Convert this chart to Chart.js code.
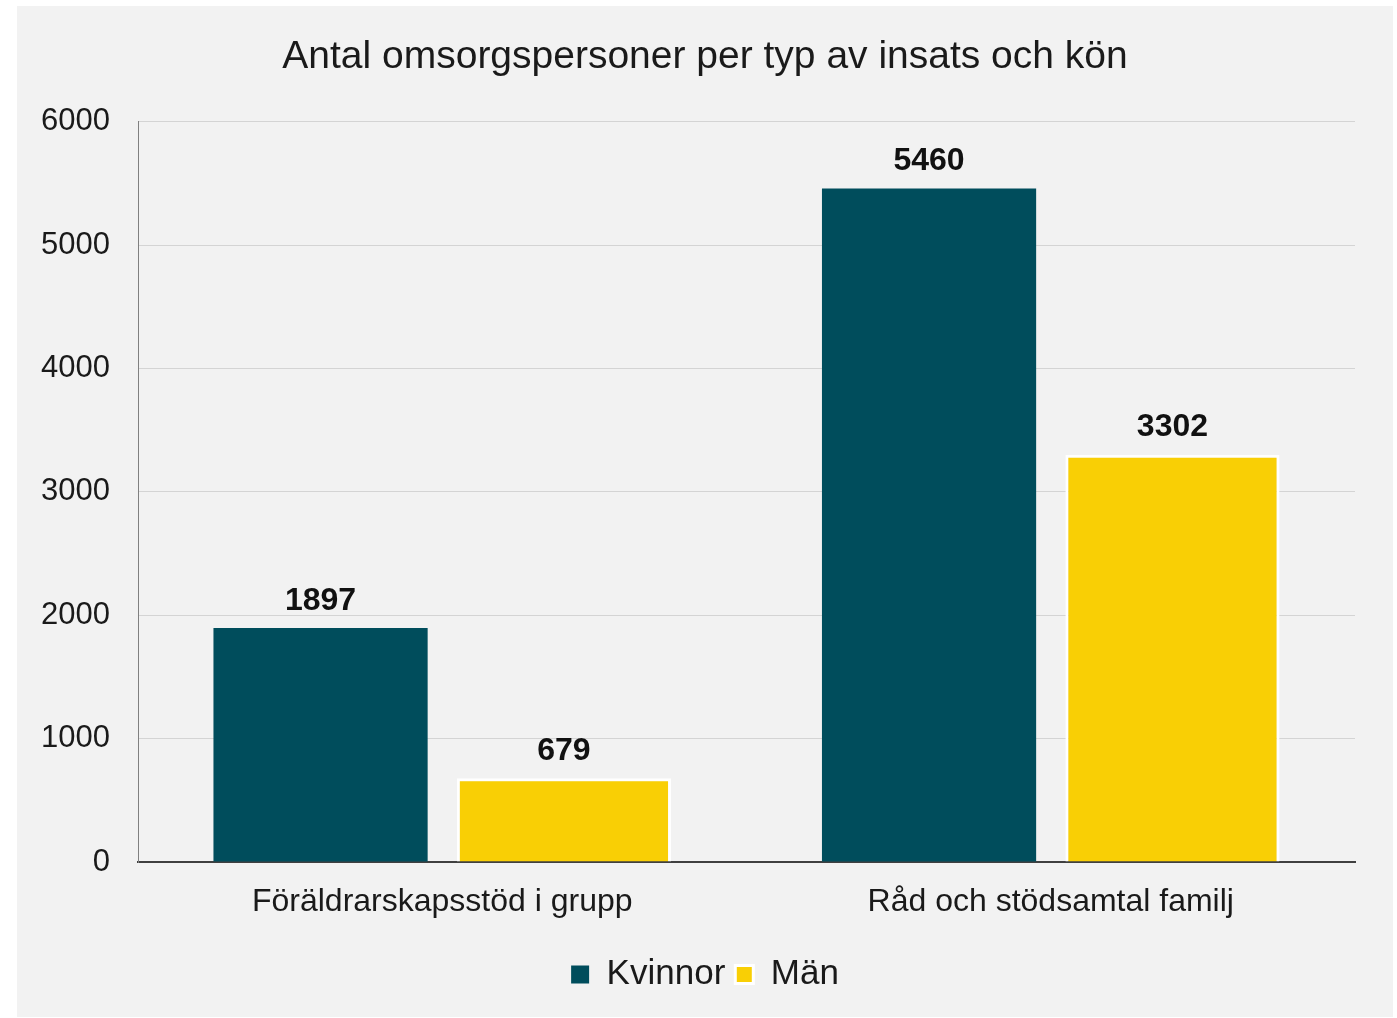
<!DOCTYPE html>
<html>
<head>
<meta charset="utf-8">
<script src="https://cdn.jsdelivr.net/npm/chart.js@4.4.1/dist/chart.umd.min.js"></script>
<style>
html,body{margin:0;padding:0;background:#ffffff;}
#wrap{position:absolute;left:17px;top:6px;width:1376px;height:1011px;background:#f2f2f2;}
canvas{display:block;}
</style>
</head>
<body>
<div id="wrap"><canvas id="c" width="1376" height="1011"></canvas></div>
<script>
const categories = ["Föräldrarskapsstöd i grupp", "Råd och stödsamtal familj"];
const kvinnor = [1897, 5460];
const man = [679, 3302];
const yTicks = [0, 1000, 2000, 3000, 4000, 5000, 6000];
const titleText = "Antal omsorgspersoner per typ av insats och kön";

const FONT = "'Liberation Sans', Arial, sans-serif";

const valueLabels = {
  id: 'valueLabels',
  afterDatasetsDraw(chart) {
    const ctx = chart.ctx;
    ctx.save();
    ctx.font = "bold 32px " + FONT;
    ctx.fillStyle = "#111111";
    ctx.textAlign = "center";
    ctx.textBaseline = "middle";
    chart.data.datasets.forEach((ds, i) => {
      const meta = chart.getDatasetMeta(i);
      meta.data.forEach((bar, j) => {
        ctx.fillText(String(ds.data[j]), bar.x, bar.y - 27);
      });
    });
    ctx.restore();
  }
};

new Chart(document.getElementById('c'), {
  type: 'bar',
  data: {
    labels: categories,
    datasets: [
      { label: 'Kvinnor', data: kvinnor, backgroundColor: '#004d5c', borderColor: '#004d5c', borderWidth: 0,
        categoryPercentage: 0.8, barPercentage: 0.88 },
      { label: 'Män', data: man, backgroundColor: '#f9cf05', borderColor: '#ffffff', borderWidth: 3,
        categoryPercentage: 0.8, barPercentage: 0.88 }
    ]
  },
  options: {
    responsive: false,
    animation: false,
    layout: { padding: { left: 19, right: 19, top: 0, bottom: 15 } },
    plugins: {
      title: {
        display: true, text: titleText, color: '#1a1a1a',
        font: { family: FONT, size: 39, weight: 'normal' },
        padding: { top: 28, bottom: 41 }
      },
      legend: {
        position: 'bottom',
        labels: {
          color: '#1a1a1a', font: { family: FONT, size: 35 },
          boxWidth: 18, boxHeight: 18, padding: 10
        }
      },
      tooltip: { enabled: false }
    },
    scales: {
      x: {
        grid: { display: false },
        border: { display: true, color: '#404040', width: 2 },
        ticks: { color: '#1a1a1a', font: { family: FONT, size: 32 }, padding: 13 },
        afterFit(scale) { scale.height = 85; }
      },
      y: {
        min: 0, max: 6000,
        afterBuildTicks(scale) { scale.ticks = yTicks.map(v => ({ value: v })); },
        grid: { color: '#d4d4d4', lineWidth: 1, drawTicks: false },
        border: { display: true, color: '#808080', width: 1 },
        ticks: { color: '#1a1a1a', font: { family: FONT, size: 31 }, padding: 28,
                 callback: (v) => String(v) },
        afterFit(scale) { scale.width = 102; }
      },
      yRight: {
        position: 'right', min: 0, max: 6000,
        grid: { display: false, drawTicks: false },
        border: { display: false },
        ticks: { display: false },
        afterFit(scale) { scale.width = 19; }
      }
    }
  },
  plugins: [valueLabels]
});
</script>
</body>
</html>
